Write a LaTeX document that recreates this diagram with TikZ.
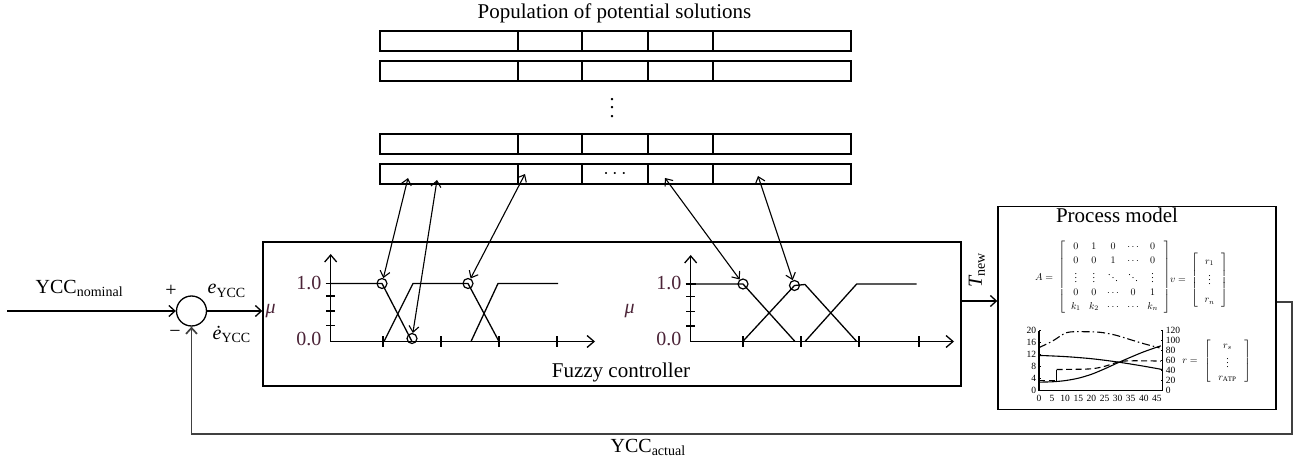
\documentclass[tikz,border=0pt]{standalone}
\usepackage{fix-cm}
\usepackage{fontspec}
\setmainfont{Liberation Serif}
\usetikzlibrary{arrows.meta}
\definecolor{labc}{RGB}{75,35,55}
\begin{document}
\begin{tikzpicture}[x=1pt,y=-1pt,line width=1.3pt,
  tip/.style={-{Straight Barb[length=6pt,width=11pt]}},
  dtip/.style={{Straight Barb[length=6pt,width=10pt]}-{Straight Barb[length=6pt,width=10pt]}},
  axtip/.style={-{Straight Barb[length=7pt,width=12pt]}},
  lbl/.style={font=\fontsize{20}{24}\selectfont, inner sep=0pt},
  ttl/.style={font=\fontsize{21}{25}\selectfont, inner sep=0pt},
  cell/.style={draw, line width=1.5pt, minimum height=20pt, inner sep=0pt},
  ring/.style={circle, draw, minimum size=10pt, inner sep=0pt, line width=1.2pt},
  box/.style={draw, line width=1.4pt, inner sep=0pt},
  fbline/.style={draw=black!75, line width=1.7pt},
  small/.style={font=\fontsize{9.5}{10}\selectfont, inner sep=0.8pt},
  mat/.style={font=\fontsize{10}{12}\selectfont, inner sep=0pt}]
\useasboundingbox (0,0) rectangle (1295,470);

% ---------- population of potential solutions ----------
\node[ttl, anchor=base] (poptitle) at (614.5,19) {Population of potential solutions};
\foreach \r/\yy in {1/41,2/71,3/144,4/174}{
  \foreach \c/\xa/\xb in {1/380/518,2/518/582,3/582/648,4/648/713,5/713/851}{
    \node[cell, minimum width={\xb-\xa}] (p\r\c) at ({(\xa+\xb)/2},\yy) {};
  }
}
\node[lbl, align=center, font=\fontsize{20}{8.5}\selectfont] (vdots) at (612,108) {.\\.\\.};
\node[font=\fontsize{20}{24}\selectfont, inner sep=0pt] (hdots) at (p43) {$\cdots$};

% ---------- fuzzy controller ----------
\node[box, minimum width=698pt, minimum height=144pt] (fuzzy) at (612,314) {};
\node[ttl, anchor=base] (fuzzylab) at (621,377) {Fuzzy controller};

% left membership plot
\draw[axtip] (330.7,341.5) -- (330.7,254);
\draw[axtip] (330.7,341.5) -- (595,341.5);
\foreach \x in {383,441,499,557} \draw (\x,336) -- (\x,347);
\draw (325.7,283.5) -- (335.7,283.5);
\foreach \y in {296,311,325.5} \draw (326.2,\y) -- (335.2,\y);
\node[lbl, anchor=base east, text=labc] (l10) at (322,290) {1.0};
\node[lbl, anchor=base east, text=labc] (l00) at (322,345) {0.0};
\node[lbl, anchor=base west, text=labc] (mu1) at (265,313) {\itshape μ};
\draw (330.7,283.5) -- (382,283.5) -- (412,341.5);
\draw (384,341.5) -- (413,283.5) -- (468,283.5) -- (499,341.5);
\draw (471,341.5) -- (498,283.5) -- (558,283.5);
\node[ring] (c1) at (382,283.5) {};
\node[ring] (c2) at (412,338.5) {};
\node[ring] (c3) at (468,283.5) {};

% right membership plot
\draw[axtip] (690.7,341.5) -- (690.7,255);
\draw[axtip] (690.7,341.5) -- (954,341.5);
\foreach \x in {743,801,859,919} \draw (\x,336) -- (\x,347);
\draw (685.7,284) -- (695.7,284);
\foreach \y in {296.7,311.7,326} \draw (686.2,\y) -- (695.2,\y);
\node[lbl, anchor=base east, text=labc] (r10) at (682,290) {1.0};
\node[lbl, anchor=base east, text=labc] (r00) at (682,345) {0.0};
\node[lbl, anchor=base west, text=labc] (mu2) at (624,313) {\itshape μ};
\draw (690.7,284) -- (743,284) -- (795,341.5);
\draw (742.7,341.5) -- (794.5,285.5) -- (805,284.5) -- (856.7,341.5);
\draw (805,341.5) -- (856.7,284) -- (916.7,284);
\node[ring] (c4) at (743,284) {};
\node[ring] (c5) at (794.5,285.5) {};

% arrows between population and membership functions
\coordinate (t1) at (408,178);
\coordinate (t2) at (437,180);
\coordinate (t3) at (525,174);
\coordinate (t4) at (665,178);
\coordinate (t5) at (758,176);
\draw[dtip, line width=1.1pt] (t1) -- (c1);
\draw[dtip, line width=1.1pt] (t2) -- (c2);
\draw[dtip, line width=1.1pt] (t3) -- (c3);
\draw[dtip, line width=1.1pt] (t4) -- (c4);
\draw[dtip, line width=1.1pt] (t5) -- (c5);

% ---------- summing junction and input ----------
\node[circle, draw, minimum size=30pt, inner sep=0pt, line width=1.3pt] (sum) at (191.5,311) {};
\coordinate (in) at (7,311);
\draw[tip] (in) -- (sum);
\draw[tip] (sum) -- (sum -| fuzzy.west);
\node[lbl, anchor=base west] (ycc) at (35,293) {YCC\textsubscript{nominal}};
\node[lbl, anchor=center] (plus) at (171,291) {+};
\node[lbl, anchor=center] (minus) at (175,334) {−};
\node[lbl, anchor=base west] (eycc) at (207,294) {\itshape e\textsubscript{\upshape YCC}};
\node[lbl, anchor=base west] (deycc) at (212,339) {\itshape ė\textsubscript{\upshape YCC}};

% ---------- process model ----------
\node[box, minimum width=278pt, minimum height=203pt] (proc) at (1137,308) {};
\node[ttl, anchor=base] (proclab) at (1117,223) {Process model};
\node[mat] (Amat) at (1114.5,277) {$\left[\,\renewcommand\arraystretch{1.12}\setlength\arraycolsep{4.2pt}\begin{array}{ccccc} 0&1&0&\cdots&0\\ 0&0&1&\cdots&0\\ \vdots&\vdots&\ddots&\ddots&\vdots\\ 0&0&\cdots&0&1\\ k_1&k_2&\cdots&\cdots&k_n\end{array}\,\right]$};
\node[mat, anchor=east] (Alab) at ([xshift=-4pt]Amat.west) {$A=$};
\node[mat] (vvec) at (1209.5,280) {$\left[\,\renewcommand\arraystretch{1.5}\begin{array}{c} r_1\\ \vdots\\ r_n\end{array}\,\right]$};
\node[mat, anchor=east] (vlab) at ([xshift=-4pt]vvec.west) {$v=$};
\node[mat] (rvec) at (1227.5,361.5) {$\left[\;\renewcommand\arraystretch{1.1}\begin{array}{c} r_s\\ \vdots\\ r_{\mathrm{ATP}}\end{array}\;\right]$};
\node[mat, anchor=east] (rlab) at ([xshift=-5pt]rvec.west) {$r=$};

% chart
\begin{scope}[shift={(1039,390.5)}, x=2.62pt, y=3pt, line width=1.1pt]
  \draw (0,20) -- (0,0) -- (47.3,0) -- (47.3,20);
  \foreach \v in {0,4,8,12,16,20}{
    \node[small, anchor=east] (yl\v) at (-0.6,\v) {\v};
    \draw[line width=0.8pt] (0,\v) -- (0.9,\v);
  }
  \foreach \v in {0,20,40,60,80,100,120}{
    \node[small, anchor=west] (yr\v) at (47.9,\v/6) {\v};
    \draw[line width=0.8pt] (47.3,\v/6) -- (46.4,\v/6);
  }
  \foreach \t in {0,5,...,45}{
    \node[small, anchor=north] (xl\t) at (\t,-1) {\t};
  }
  \draw plot[smooth] coordinates {(0,11.7)(10,11.3)(20,10.6)(30,9.5)(40,8.1)(47,7)};
  \draw plot[smooth] coordinates {(0,2.8)(5,2.9)(10,3.3)(15,4.1)(20,5.4)(25,7.2)(30,9.2)(35,11.1)(40,12.9)(46.5,14.9)};
  \draw[dash pattern=on 8pt off 3pt on 1.5pt off 3pt] plot[smooth] coordinates {(0,14.3)(5,16.4)(10.6,19.3)(17,19.6)(23.3,19.4)(29,18.5)(34.7,17)(40,15.6)(46,14.2)};
  \draw[dash pattern=on 6pt off 3.5pt] (0,3.3) -- (6.7,3.3);
  \draw (6.7,3.3) -- (6.7,7);
  \draw[dash pattern=on 6pt off 3.5pt] plot[smooth, tension=0.5] coordinates {(6.7,7)(19.5,7.2)(25.2,8.1)(32.3,9.8)(46.5,9.8)};
\end{scope}

% ---------- T_new and feedback ----------
\draw[tip] (fuzzy.east |- 0,301) -- (proc.west |- 0,301);
\node[lbl, rotate=90] (tnew) at (977,270) {\itshape T\textsubscript{\upshape new}};
\coordinate (fbR) at (1292,302);
\coordinate (fbB) at (1292,434);
\draw[fbline, tip] (proc.east |- fbR) -- (fbR) -- (fbB) -- (fbB -| sum) -- (sum);
\node[lbl, anchor=base west] (yccact) at (610,452) {YCC\textsubscript{actual}};
\end{tikzpicture}
\end{document}
